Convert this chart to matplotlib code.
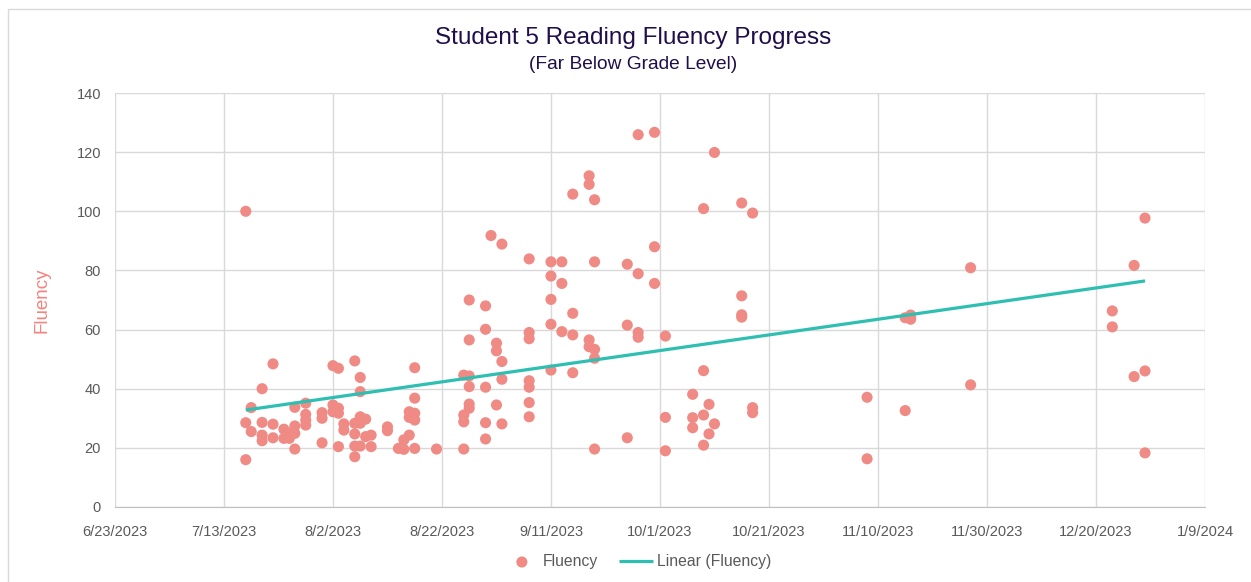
import matplotlib.pyplot as plt
import matplotlib.dates as mdates
from matplotlib.patches import Rectangle
import numpy as np
import pandas as pd

plt.rcParams['font.family'] = ['Liberation Sans', 'DejaVu Sans']

# reading dates and the fluency scores taken on each one
dates = ["7/17/2023", "7/18/2023", "7/20/2023", "7/22/2023", "7/24/2023", "7/25/2023",
         "7/26/2023", "7/28/2023", "7/31/2023", "8/2/2023", "8/3/2023", "8/4/2023",
         "8/6/2023", "8/7/2023", "8/8/2023", "8/9/2023", "8/12/2023", "8/14/2023",
         "8/15/2023", "8/16/2023", "8/17/2023", "8/21/2023", "8/26/2023", "8/27/2023",
         "8/30/2023", "8/31/2023", "9/1/2023", "9/2/2023", "9/7/2023", "9/11/2023",
         "9/13/2023", "9/15/2023", "9/18/2023", "9/19/2023", "9/25/2023", "9/27/2023",
         "9/30/2023", "10/2/2023", "10/7/2023", "10/9/2023", "10/10/2023", "10/11/2023",
         "10/16/2023", "10/18/2023", "11/8/2023", "11/15/2023", "11/16/2023", "11/27/2023",
         "12/23/2023", "12/27/2023", "12/29/2023"]
scores = [[100, 28.5, 16], [33.6, 25.5], [40, 28.6, 24.3, 22.4], [48.4, 28, 23.4],
          [26.3, 23.2], [24.9, 23.2], [33.7, 27.4, 24.9, 19.6], [35.1, 31.3, 29.4, 27.7],
          [31.9, 30.0, 21.7], [47.8, 34.5, 32.2], [46.9, 33.4, 31.7, 20.4], [28.1, 26.0],
          [49.4, 28.3, 24.7, 20.6, 17.0], [43.8, 39.0, 30.5, 28.3, 20.6], [29.7, 23.8],
          [24.3, 20.4], [27.1, 25.8], [19.8], [22.7, 19.5], [32.2, 30.3, 24.3],
          [47.1, 36.8, 31.7, 29.4, 19.8], [19.6], [44.6, 31.1, 28.8, 19.6],
          [70.0, 56.5, 44.3, 40.7, 34.8, 33.4], [68.0, 60.1, 40.5, 28.5, 23.0], [91.8],
          [55.4, 52.8, 34.5], [88.9, 49.2, 43.2, 28.1],
          [83.9, 59.0, 56.9, 42.7, 40.5, 35.3, 30.5], [82.9, 78.1, 70.2, 61.8, 46.3],
          [82.9, 75.6, 59.3], [105.8, 65.5, 58.2, 45.4], [112.0, 109.1, 56.5, 54.2],
          [103.9, 82.9, 53.3, 50.3, 19.6], [82.1, 61.5, 23.4], [125.9, 78.9, 59.0, 57.4],
          [126.7, 88.0, 75.6], [57.8, 30.3, 19.0], [38.1, 30.2, 26.8],
          [100.9, 46.1, 31.1, 20.9], [34.7, 24.7], [119.9, 28.1],
          [102.8, 71.4, 65.0, 64.2], [99.4, 33.6, 31.9], [37.1, 16.3], [64.0, 32.6],
          [64.9, 63.5], [80.9, 41.3], [66.3, 60.9], [81.7, 44.1], [97.7, 46.0, 18.3]]
x_ticks = ["6/23/2023", "7/13/2023", "8/2/2023", "8/22/2023", "9/11/2023", "10/1/2023",
           "10/21/2023", "11/10/2023", "11/30/2023", "12/20/2023", "1/9/2024"]
y_ticks = [0, 20, 40, 60, 80, 100, 120, 140]

# flatten into one row per reading
x_all = []
y_all = []
for d, vals in zip(dates, scores):
    for v in vals:
        x_all.append(pd.Timestamp(d))
        y_all.append(v)
x_num = mdates.date2num(x_all)
y_all = np.array(y_all)

fig = plt.figure(figsize=(12.51, 5.82), dpi=100)
ax = fig.add_axes([0.0919, 0.1289, 0.8713, 0.7113])

ax.scatter(x_num, y_all, s=64, color='#f08a84', edgecolors='none', zorder=3, label='Fluency')

# linear trendline, like Excel's
slope, intercept = np.polyfit(x_num, y_all, 1)
x_fit = np.array([x_num.min(), x_num.max()])
ax.plot(x_fit, slope * x_fit + intercept, color='#2ebfb2', lw=2.3, zorder=4,
        label='Linear (Fluency)', solid_capstyle='butt')

tick_nums = mdates.date2num([pd.Timestamp(t) for t in x_ticks])
ax.set_xlim(tick_nums[0], tick_nums[-1])
ax.set_ylim(0, 140)
ax.set_xticks(tick_nums)
ax.set_xticklabels(x_ticks)
ax.set_yticks(y_ticks)

ax.grid(True, color='#d9d9d9', lw=1)
ax.set_axisbelow(True)
for side in ['top', 'right', 'left']:
    ax.spines[side].set_visible(False)
ax.spines['bottom'].set_color('#bfbfbf')
ax.tick_params(length=0, labelsize=10.5, labelcolor='#595959')
ax.tick_params(axis='x', pad=13)
ax.tick_params(axis='y', pad=10)

ax.set_ylabel('Fluency', fontsize=13.5, color='#f4837d', labelpad=19)

fig.text(0.506, 0.935, 'Student 5 Reading Fluency Progress', ha='center', va='center',
         fontsize=17.5, color='#1f0e4a')
fig.text(0.506, 0.89, '(Far Below Grade Level)', ha='center', va='center',
         fontsize=13.8, color='#1f0e4a')

fig.legend(loc='center', bbox_to_anchor=(0.51, 0.035), ncol=2, frameon=False,
           fontsize=11.3, labelcolor='#595959', handlelength=2.2, columnspacing=1.3,
           handletextpad=0.25)

# light border round the chart area
fig.patches.append(Rectangle((0.006, -0.01), 1.02, 0.995, transform=fig.transFigure,
                             fill=False, edgecolor='#d9d9d9', lw=1))

fig.savefig('out.png', dpi=100)
